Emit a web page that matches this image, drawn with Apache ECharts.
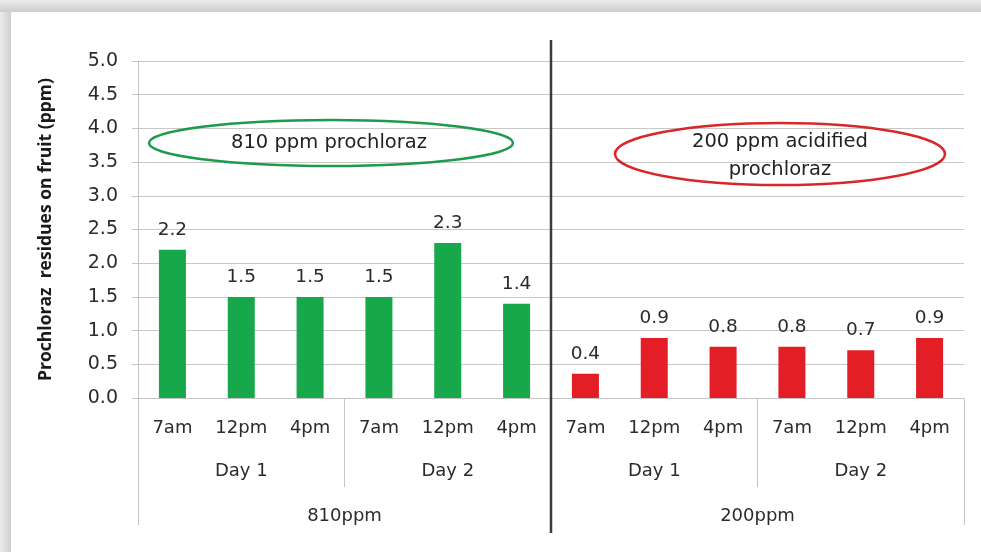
<!DOCTYPE html>
<html>
<head>
<meta charset="utf-8">
<script src="https://cdn.jsdelivr.net/npm/echarts@6/dist/echarts.min.js"></script>
<style>html,body{margin:0;padding:0;background:#fff}#c{width:981px;height:552px}</style>
</head>
<body>
<div id="c"></div>
<script>
// ---- data ----
const times = ['7am', '12pm', '4pm'];
const days = ['Day 1', 'Day 2'];
const groups = ['810ppm', '200ppm'];
const values810 = [2.2, 1.5, 1.5, 1.5, 2.3, 1.4];
const values200 = [0.36, 0.89, 0.76, 0.76, 0.71, 0.89];
const yTicks = { min: 0, max: 5, interval: 0.5 };
const yTitle = 'Prochloraz  residues on fruit (ppm)';
const note810 = '810 ppm prochloraz';
const note200 = '200 ppm acidified\nprochloraz';
const groupColors = ['#17a84b', '#e31e26'];

// ---- derived ----
const categories = [];
const dayCats = [];
groups.forEach(g => days.forEach(d => { dayCats.push(d); times.forEach(t => categories.push(t)); }));
const allValues = values810.concat(values200);
const perGroup = categories.length / groups.length;

const FONT = 'DejaVu Sans';
const TXT = '#2b2b2b';
const LINE = '#c4c4c4';
const FS = 18;

const chart = echarts.init(document.getElementById('c'), null, { renderer: 'canvas' });

const option = {
  backgroundColor: '#ffffff',
  animation: false,
  grid: { left: 138, right: 17, top: 61, bottom: 154, containLabel: false },
  xAxis: [
    {
      type: 'category', data: categories, position: 'bottom',
      axisLine: { show: true, lineStyle: { color: LINE, width: 1 } },
      axisTick: { show: false },
      axisLabel: { color: TXT, fontFamily: FONT, fontSize: FS, margin: 21, interval: 0 },
      splitLine: { show: false }
    },
    {
      type: 'category', data: dayCats, position: 'bottom', gridIndex: 0,
      axisLine: { show: false },
      axisTick: { show: true, length: 89, inside: false, lineStyle: { color: LINE, width: 1 } },
      axisLabel: { color: TXT, fontFamily: FONT, fontSize: FS, margin: 64, interval: 0 },
      splitLine: { show: false }
    },
    {
      type: 'category', data: groups, position: 'bottom', gridIndex: 0,
      axisLine: { show: false },
      axisTick: { show: true, length: 127, inside: false, lineStyle: { color: LINE, width: 1 } },
      axisLabel: { color: TXT, fontFamily: FONT, fontSize: FS, margin: 109, interval: 0 },
      splitLine: { show: false }
    }
  ],
  yAxis: {
    type: 'value', min: yTicks.min, max: yTicks.max, interval: yTicks.interval,
    name: yTitle, nameLocation: 'middle', nameGap: 83, nameRotate: 90,
    nameTextStyle: { color: '#1a1a1a', fontFamily: 'Open Sans', fontWeight: 'bold', fontSize: 17.5 },
    axisLine: { show: true, lineStyle: { color: LINE, width: 1 } },
    axisTick: { show: true, length: 6, lineStyle: { color: LINE } },
    axisLabel: { color: TXT, fontFamily: FONT, fontSize: 19, margin: 20, formatter: v => v.toFixed(1) },
    splitLine: { show: true, lineStyle: { color: '#c8c8c8', width: 1 } }
  },
  series: [{
    type: 'bar', xAxisIndex: 0, barWidth: 27,
    data: allValues.map((v, i) => ({ value: v, itemStyle: { color: groupColors[Math.floor(i / perGroup)] } })),
    label: {
      show: true, position: 'top', distance: 10, color: TXT, fontFamily: FONT, fontSize: 18.5,
      formatter: p => (Math.round(p.value * 10) / 10).toFixed(1)
    }
  }]
};
chart.setOption(option);

// vertical divider between groups
const xA = chart.convertToPixel({ xAxisIndex: 0 }, perGroup - 1);
const xB = chart.convertToPixel({ xAxisIndex: 0 }, perGroup);
const xMid = (xA + xB) / 2;
const yTop = chart.convertToPixel({ yAxisIndex: 0 }, yTicks.max) - 21;
const yBot = chart.convertToPixel({ yAxisIndex: 0 }, yTicks.min) + 135;

chart.setOption({
  graphic: [
    { type: 'rect', silent: true, z: -10, shape: { x: 0, y: 0, width: 981, height: 12 },
      style: { fill: new echarts.graphic.LinearGradient(0, 0, 0, 1, [{ offset: 0, color: '#ececec' }, { offset: 1, color: '#cdcdcd' }]) } },
    { type: 'rect', silent: true, z: -10, shape: { x: 0, y: 12, width: 11, height: 540 },
      style: { fill: new echarts.graphic.LinearGradient(0, 0, 1, 0, [{ offset: 0, color: '#ececec' }, { offset: 1, color: '#cfcfcf' }]) } },
    { type: 'line', silent: true, z: 50, shape: { x1: xMid, y1: yTop, x2: xMid, y2: yBot },
      style: { stroke: '#3c3c3c', lineWidth: 2.5 } },
    { type: 'ellipse', silent: true, z: 50, shape: { cx: 331, cy: 143, rx: 182, ry: 23 },
      style: { fill: 'rgba(255,255,255,0)', stroke: '#1d9a4c', lineWidth: 2.5 } },
    { type: 'text', silent: true, z: 51, x: 329, y: 143,
      style: { text: note810, fill: '#222', font: '19.5px "DejaVu Sans"', align: 'center', verticalAlign: 'middle' } },
    { type: 'ellipse', silent: true, z: 50, shape: { cx: 780, cy: 154, rx: 165, ry: 31 },
      style: { fill: 'rgba(255,255,255,0)', stroke: '#d9262b', lineWidth: 2.5 } },
    { type: 'text', silent: true, z: 51, x: 780, y: 156,
      style: { text: note200, fill: '#222', font: '19.5px "DejaVu Sans"', align: 'center', verticalAlign: 'middle', lineHeight: 28 } }
  ]
});
</script>
</body>
</html>
